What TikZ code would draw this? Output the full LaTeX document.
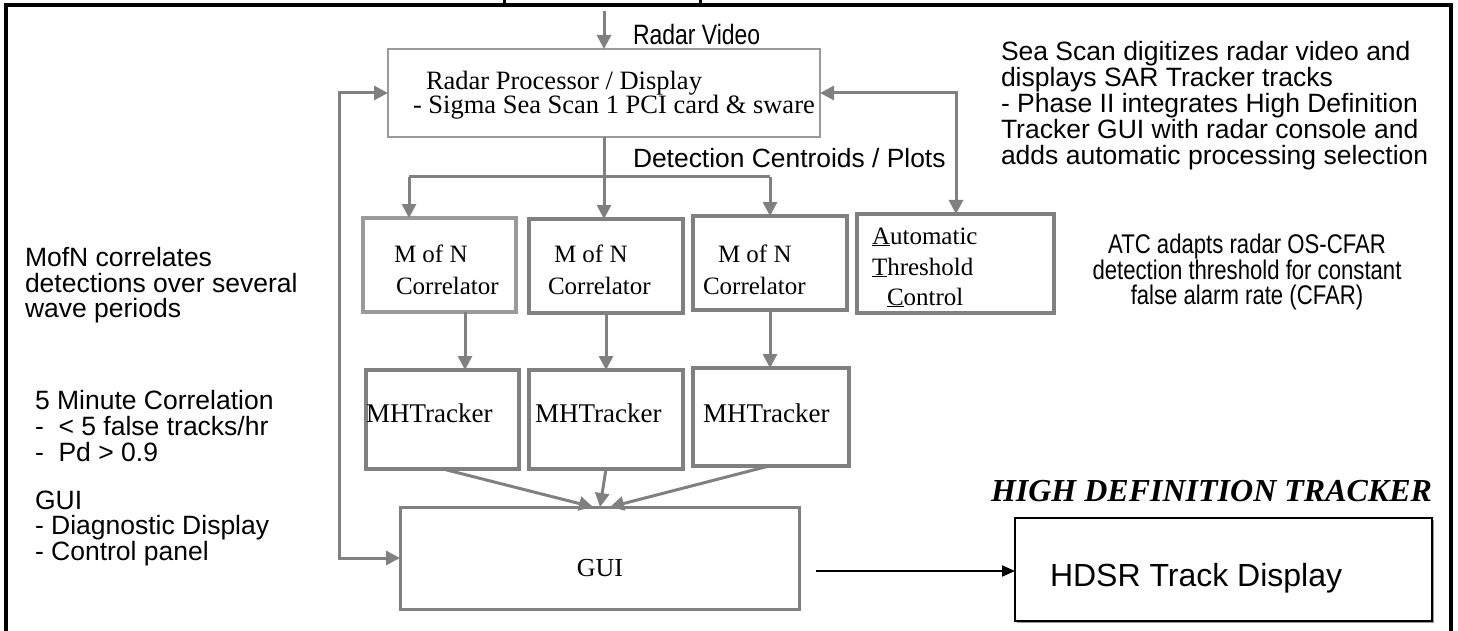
\documentclass[tikz,border=0pt]{standalone}
\usepackage{fontspec}
\setmainfont{Liberation Serif}
\newfontfamily\arialfont{Liberation Sans}
\newfontfamily\narrowfont[FakeStretch=0.82]{Liberation Sans}
\usetikzlibrary{arrows.meta,fit,shadows}
\definecolor{midgray}{HTML}{808080}
\definecolor{lightgray2}{HTML}{9A9A9A}
\newcommand\fsz[2]{\fontsize{#1}{#2}\selectfont}
\begin{document}
\begin{tikzpicture}[x=1pt,y=-1pt,
  every node/.style={inner sep=0pt, outer sep=0pt},
  gbox/.style={draw=midgray, line width=4pt},
  lbox/.style={draw=lightgray2, line width=4pt},
  thinbox/.style={draw=lightgray2, line width=2pt},
  guibox/.style={draw=midgray, line width=3pt},
  blackbox/.style={draw=black, line width=2.5pt, fill=white,
    drop shadow={shadow xshift=2pt, shadow yshift=-2pt, fill=midgray, opacity=0.8}},
  gline/.style={draw=midgray, line width=3pt},
  garrow/.style={draw=midgray, line width=3pt, -{Triangle[length=14pt,width=14pt]}},
  gboth/.style={draw=midgray, line width=3pt, {Triangle[length=14pt,width=14pt]}-{Triangle[length=14pt,width=14pt]}},
  barrow/.style={draw=black, line width=2pt, -{Triangle[length=13pt,width=11pt]}},
  sans/.style={font=\arialfont\fsz{26.5}{25.8}},
  serif/.style={font=\fsz{25}{25}},
  narrow/.style={font=\narrowfont\fsz{27}{25.5}}
]
\useasboundingbox (0,0) rectangle (1458,631);
% outer frame
\draw[line width=4pt] (6,633) -- (6,5) -- (1451,5) -- (1451,633);
\draw[line width=3pt] (504,-2) -- (504,6) (700,-2) -- (700,6);

% boxes
\node[thinbox, fit={(388,49) (820,137)}] (rp) {};
\node[lbox, fit={(363,218) (516,312)}] (c1) {};
\node[gbox, fit={(529,219) (683,313)}] (c2) {};
\node[gbox, fit={(693,216) (847,310)}] (c3) {};
\node[gbox, fit={(857,214) (1054,313)}] (atc) {};
\node[gbox, fit={(366,370) (519,469)}] (m1) {};
\node[gbox, fit={(529,370) (683,469)}] (m2) {};
\node[gbox, fit={(693,368) (849,466)}] (m3) {};
\node[guibox, fit={(400,507) (799,609)}] (gui) {};
\node[blackbox, fit={(1015,518) (1432,621)}] (hdsr) {};

% box texts
\node[anchor=base west, font=\fsz{26.5}{26.5}] (rpt1) at (426,90) {Radar Processor / Display};
\node[anchor=base west, font=\fsz{26.5}{26.5}] (rpt2) at (413,114) {- Sigma Sea Scan 1 PCI card \& sware};
\node[serif, anchor=base west] (c1a) at (394,262) {M of N};
\node[serif, anchor=base west] (c1b) at (396,294) {Correlator};
\node[serif, anchor=base west] (c2a) at (554,262) {M of N};
\node[serif, anchor=base west] (c2b) at (548,294) {Correlator};
\node[serif, anchor=base west] (c3a) at (718,262) {M of N};
\node[serif, anchor=base west] (c3b) at (703,294) {Correlator};
\node[serif, anchor=base west] (atc1) at (872,244) {\underline{A}utomatic};
\node[serif, anchor=base west] (atc2) at (872,275) {\underline{T}hreshold};
\node[serif, anchor=base west] (atc3) at (887,305) {\underline{C}ontrol};
\node[anchor=base west, font=\fsz{27}{27}] (m1t) at (366,422) {MHTracker};
\node[anchor=base west, font=\fsz{27}{27}] (m2t) at (535,422) {MHTracker};
\node[anchor=base west, font=\fsz{27}{27}] (m3t) at (703,422) {MHTracker};
\node[font=\fsz{26}{26}] (guit) at (600,568) {GUI};
\node[anchor=base west, font=\arialfont\fsz{32}{32}] (hdsrt) at (1050,586) {HDSR Track Display};

% free texts
\node[anchor=base west, font=\narrowfont\fsz{28}{28}] (rv) at (633,45) {Radar Video};
\node[anchor=base west, font=\arialfont\fsz{26.4}{26.4}] (dc) at (633,168) {Detection Centroids / Plots};
\node[anchor=north west, align=left, font=\arialfont\fsz{26.5}{26}] (sea) at (1001,41.5)
  {Sea Scan digitizes radar video and\\displays SAR Tracker tracks\\- Phase II integrates High Definition\\Tracker GUI with radar console and\\adds automatic processing selection};
\node[narrow, anchor=north, align=center] (atct) at (1247,234)
  {ATC adapts radar OS-CFAR\\detection threshold for constant\\false alarm rate (CFAR)};
\node[sans, anchor=north west, align=left] (mofn) at (25,247)
  {MofN correlates\\detections over several\\wave periods};
\node[sans, anchor=north west, align=left] (crit) at (35,390.5)
  {5 Minute Correlation\\-\ \ < 5 false tracks/hr\\-\ \ Pd > 0.9};
\node[sans, anchor=north west, align=left] (guin) at (35,490.5)
  {GUI\\- Diagnostic Display\\- Control panel};
\node[anchor=base east, font=\bfseries\itshape\fsz{32}{32}] (hdt) at (1432,501) {HIGH DEFINITION TRACKER};

% connectors
\coordinate (src) at (604,11);
\draw[garrow] (src) -- (rp.north -| src);
\coordinate (j0) at (604,177);
\coordinate (jl) at (409,177);
\coordinate (jr) at (770,177);
\draw[gline] (rp.south -| j0) -- (j0);
\draw[gline] (jl) -- (jr);
\draw[garrow] (jl) -- (c1.north -| jl);
\draw[garrow] (j0) -- (c2.north -| j0);
\draw[garrow] (jr) -- (c3.north -| jr);
\coordinate (atcup) at (956,93);
\draw[gboth] (rp.east |- atcup) -- (atcup) -- (atc.north -| atcup);
\coordinate (fbtop) at (339,93);
\coordinate (fbbot) at (339,558);
\draw[gboth] (rp.west |- fbtop) -- (fbtop) -- (fbbot) -- (gui.west |- fbbot);
\coordinate (a1) at (465,0);
\coordinate (a2) at (606,0);
\coordinate (a3) at (770,0);
\draw[garrow] (c1.south -| a1) -- (m1.north -| a1);
\draw[garrow] (c2.south -| a2) -- (m2.north -| a2);
\draw[garrow] (c3.south -| a3) -- (m3.north -| a3);
\draw[garrow] (m1.south -| 443,0) -- (gui.north -| 593,0);
\draw[garrow] (m2.south -| 606,0) -- (gui.north -| 600,0);
\draw[garrow] (m3.south -| 769,0) -- (gui.north -| 610,0);
\coordinate (gh) at (0,571);
\draw[barrow] (gui.east |- gh) ++(17,0) -- (hdsr.west |- gh);
\end{tikzpicture}
\end{document}
